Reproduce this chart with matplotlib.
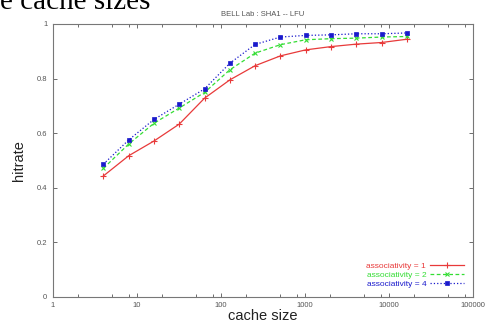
import numpy as np
import matplotlib
matplotlib.use("Agg")
import matplotlib.pyplot as plt
from matplotlib.ticker import FixedLocator, NullFormatter

# cache sizes and hitrates
cache_size = [4, 8, 16, 32, 64, 128, 256, 512, 1024, 2048, 4096, 8192, 16384]
assoc1 = [0.443, 0.517, 0.571, 0.633, 0.728, 0.795, 0.847, 0.883, 0.905, 0.917, 0.926, 0.932, 0.944]
assoc2 = [0.471, 0.560, 0.636, 0.692, 0.749, 0.832, 0.893, 0.924, 0.942, 0.946, 0.948, 0.952, 0.954]
assoc4 = [0.486, 0.575, 0.650, 0.706, 0.762, 0.856, 0.925, 0.952, 0.958, 0.960, 0.964, 0.964, 0.967]
labels = ["associativity = 1", "associativity = 2", "associativity = 4"]

plt.rcParams['font.family'] = ['Liberation Sans', 'DejaVu Sans']

fig = plt.figure(figsize=(4.89, 3.28), dpi=100)
ax = fig.add_axes([0.108, 0.095, 0.859, 0.832])

ax.plot(cache_size, assoc1, color='#e83a3a', lw=0.9, ls='-', marker='+', ms=4, mew=0.8, label=labels[0])
ax.plot(cache_size, assoc2, color='#33dd33', lw=0.9, ls='--', dashes=(3, 2), marker='x', ms=3, mew=0.8, label=labels[1])
ax.plot(cache_size, assoc4, color='#1a1acc', lw=0.9, ls=':', marker='s', ms=3, mew=0.5, label=labels[2])

ax.set_xscale('log')
ax.set_xlim(1, 100000)
ax.set_ylim(0, 1)
ax.set_xticks([1, 10, 100, 1000, 10000, 100000])
ax.set_xticklabels(["1", "10", "100", "1000", "10000", "100000"])
minors = [m * 10 ** d for d in range(5) for m in (2, 5, 8)]
ax.xaxis.set_minor_locator(FixedLocator(minors))
ax.xaxis.set_minor_formatter(NullFormatter())
ax.set_yticks([0, 0.2, 0.4, 0.6, 0.8, 1])
ax.set_yticklabels(["0", "0.2", "0.4", "0.6", "0.8", "1"])
ax.tick_params(which='both', direction='in', top=True, right=True, labelsize=5.5,
               labelcolor='#555555', color='#555555', width=0.6)
ax.tick_params(which='major', length=3, pad=4)
ax.tick_params(which='minor', length=2)
for s in ax.spines.values():
    s.set_color('#777777')
    s.set_linewidth(0.8)

ax.set_xlabel("cache size", fontsize=10.5, labelpad=0, color='#222222')
ax.set_ylabel("hitrate", fontsize=10.5, labelpad=8, color='#222222')
ax.set_title("BELL Lab : SHA1 -- LFU", fontsize=5.5, color='#555555', pad=6)

leg = ax.legend(loc='lower right', frameon=False, markerfirst=False, fontsize=6,
                labelcolor='linecolor', handlelength=4, handletextpad=0.5,
                labelspacing=0.1, borderaxespad=0.7)

# slide title cut off at the top of the crop
fig.text(0.0, 0.974, "e cache sizes", fontsize=21, family=['Liberation Serif', 'DejaVu Serif'],
         va='baseline', ha='left', color='black')

fig.savefig("out.png", dpi=100)
